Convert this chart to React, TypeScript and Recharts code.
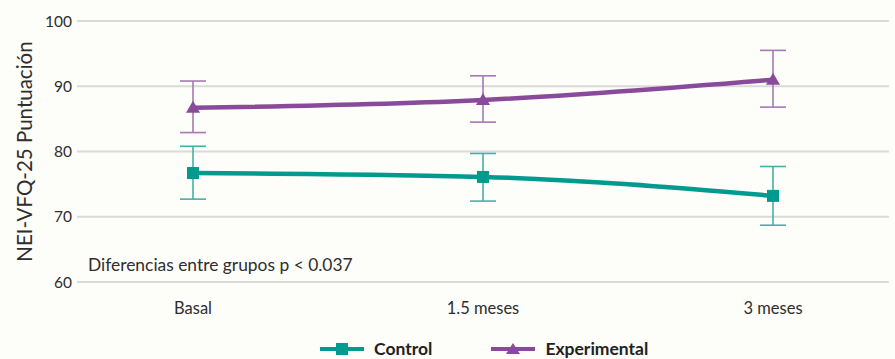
import React from 'react';
import { LineChart, Line, XAxis, YAxis, CartesianGrid, ErrorBar, Legend, Label, Customized } from 'recharts';

const categories = ['Basal', '1.5 meses', '3 meses'];
const controlMean = [76.7, 76.1, 73.2];
const controlLow = [72.7, 72.4, 68.7];
const controlHigh = [80.8, 79.7, 77.7];
const expMean = [86.7, 87.9, 91.0];
const expLow = [82.9, 84.5, 86.8];
const expHigh = [90.8, 91.6, 95.5];
const yTicks = [60, 70, 80, 90, 100];
const yLabel = 'NEI-VFQ-25 Puntuación';
const note = 'Diferencias entre grupos p < 0.037';

const TEAL = '#009a8e';
const TEAL_LIGHT = '#45b0a7';
const PURPLE = '#8a4a9b';
const PURPLE_LIGHT = '#a679b3';
const FONT = 'Lato, "Noto Sans", sans-serif';

const data = categories.map((c, i) => ({
  cat: c,
  control: controlMean[i],
  controlErr: [controlMean[i] - controlLow[i], controlHigh[i] - controlMean[i]],
  exp: expMean[i],
  expErr: [expMean[i] - expLow[i], expHigh[i] - expMean[i]],
}));

const Square = (props: any) => {
  const { cx, cy, index } = props;
  if (cx == null || cy == null) return <g key={`s${index}`} />;
  return <rect key={`s${index}`} x={cx - 6} y={cy - 6} width={12} height={12} fill={TEAL} />;
};

const Triangle = (props: any) => {
  const { cx, cy, index } = props;
  if (cx == null || cy == null) return <g key={`t${index}`} />;
  return (
    <path key={`t${index}`} d={`M${cx} ${cy - 7} L${cx + 7} ${cy + 5} L${cx - 7} ${cy + 5} Z`} fill={PURPLE} />
  );
};

const LegendContent = (props: any) => {
  const { payload } = props;
  return (
    <div style={{ display: 'flex', alignItems: 'center', paddingLeft: 320, paddingTop: 1, height: 21, boxSizing: 'border-box', fontFamily: FONT }}>
      {(payload || []).map((p: any, i: number) => {
        const isCtrl = p.dataKey === 'control';
        const color = isCtrl ? TEAL : PURPLE;
        return (
          <div key={i} style={{ display: 'flex', alignItems: 'center', marginRight: 59, height: 20 }}>
            <svg width={44} height={16}>
              <line x1={0} y1={8} x2={44} y2={8} stroke={color} strokeWidth={4} strokeLinecap="round" />
              {isCtrl ? (
                <rect x={16} y={2} width={12} height={12} fill={color} />
              ) : (
                <path d="M22 2 L29 13 L15 13 Z" fill={color} />
              )}
            </svg>
            <span style={{ marginLeft: 10, fontWeight: 700, fontSize: 17.5, color: '#222', lineHeight: '20px' }}>{p.value}</span>
          </div>
        );
      })}
    </div>
  );
};

export default function App() {
  return (
    <div style={{ position: 'absolute', left: 0, top: 0, width: 895, height: 359, background: '#fdfdf9' }}>
      <LineChart width={895} height={359} data={data} margin={{ top: 21, right: 6, bottom: 0, left: 0 }}>
        <CartesianGrid horizontal vertical={false} stroke="#dadada" strokeWidth={2} />
        <XAxis
          dataKey="cat"
          scale="point"
          padding={{ left: 116, right: 116 }}
          axisLine={false}
          tickLine={false}
          tickSize={0}
          tickMargin={20}
          height={56}
          tick={{ fill: '#2e2e2e', fontSize: 16.5, fontFamily: FONT }}
        />
        <YAxis
          domain={[60, 100]}
          ticks={yTicks}
          width={77}
          axisLine={false}
          tickLine={false}
          tickSize={0}
          tickMargin={5}
          tick={{ fill: '#2e2e2e', fontSize: 15.5, fontFamily: FONT }}
        >
          <Label
            content={(p: any) => {
              const vb = p.viewBox || { x: 0, y: 21, width: 77, height: 261 };
              const cx = vb.x + 24;
              const cy = vb.y + vb.height / 2;
              return (
                <text
                  x={cx}
                  y={cy}
                  transform={`rotate(-90 ${cx} ${cy})`}
                  textAnchor="middle"
                  dominantBaseline="central"
                  fill="#2e2e2e"
                  fontSize={20.5}
                  fontFamily={FONT}
                >
                  {yLabel}
                </text>
              );
            }}
          />
        </YAxis>
        <Customized
          component={() => (
            <text x={88} y={271} fill="#2e2e2e" fontSize={17.4} fontFamily={FONT}>
              {note}
            </text>
          )}
        />
        <Legend verticalAlign="bottom" content={<LegendContent />} wrapperStyle={{ left: 0, width: 895 }} />
        <Line
          type="monotone"
          dataKey="control"
          name="Control"
          stroke={TEAL}
          strokeWidth={4.5}
          dot={Square}
          activeDot={false}
          isAnimationActive={false}
        >
          <ErrorBar dataKey="controlErr" direction="y" width={13} stroke={TEAL_LIGHT} strokeWidth={1.6} />
        </Line>
        <Line
          type="monotone"
          dataKey="exp"
          name="Experimental"
          stroke={PURPLE}
          strokeWidth={4.5}
          dot={Triangle}
          activeDot={false}
          isAnimationActive={false}
        >
          <ErrorBar dataKey="expErr" direction="y" width={13} stroke={PURPLE_LIGHT} strokeWidth={1.6} />
        </Line>
      </LineChart>
    </div>
  );
}
